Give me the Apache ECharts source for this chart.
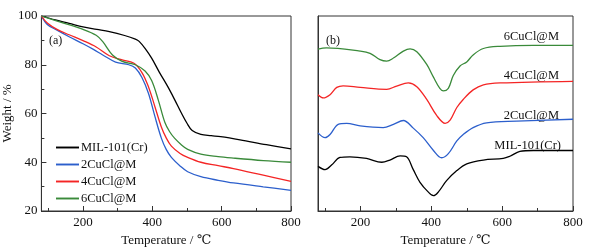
<!DOCTYPE html>
<html><head><meta charset="utf-8">
<script src="https://cdn.jsdelivr.net/npm/echarts@6/dist/echarts.min.js"></script>
<style>html,body{margin:0;padding:0;background:#fff}#c{width:595px;height:252px}</style>
</head><body><div id="c"></div>
<script>
// ---- TGA (panel a): [temperature, weight %]
var seriesNames = ['MIL-101(Cr)', '2CuCl@M', '4CuCl@M', '6CuCl@M'];
var tgaMIL = [[80,100],[120,98.4],[160,97],[200,95.5],[240,94.5],[276,93.6],[320,92],[351,90.5],[362,89.6],[380,86.5],[398,82.7],[420,77],[445,70.9],[465,65.5],[483,60.4],[500,56],[515,53],[540,51.4],[570,50.9],[597,50.5],[653,49.2],[729,47.2],[800,45.5]];
var tga2Cu = [[80,100],[97,96.5],[125,94.2],[160,91.5],[200,88.6],[230,86.3],[257,84],[294,81.1],[332,80],[351,78.7],[370,74.8],[389,68.2],[407,59],[426,49.9],[440,45.3],[455,42],[480,38.5],[502,36.1],[540,34.1],[590,32.6],[634,31.5],[720,29.9],[800,28.5]];
var tga4Cu = [[80,100],[97,97.1],[125,94.5],[160,92.3],[200,89.9],[238,87.3],[276,83.7],[313,82],[346,80.7],[370,76.8],[389,70.9],[407,63],[426,54.5],[440,50],[455,46.6],[480,43.6],[502,42],[540,40],[590,38.6],[634,37.4],[720,34.7],[800,32.2]];
var tga6Cu = [[80,100],[144,97.1],[200,94.5],[238,92.1],[257,89.5],[285,84],[313,81.4],[351,80],[379,77.4],[398,73.5],[417,65.6],[436,56.4],[450,52.5],[464,49.9],[485,47],[502,45.3],[540,43.3],[590,42.3],[634,41.7],[720,40.7],[800,40]];

// ---- DTG (panel b): [temperature, offset signal (arbitrary units)]
var dtgMIL = [[80,46.7],[100,43.3],[119,48.3],[142,56],[170,56.7],[217,55],[260,51],[283,53.3],[312,57.7],[330,56.7],[349,43.3],[368,30],[391,20],[406,16],[420,20],[443,31.7],[472,42.3],[500,49.3],[547,53.3],[603,55],[622,57.3],[650,62.3],[688,63.3],[800,63.3]];
var dtg2Cu = [[80,81.7],[100,76.7],[114,80],[137,90.7],[161,91.7],[199,89],[264,87.3],[293,90.7],[321,94.7],[349,86.7],[377,76.7],[406,63.3],[429,55.7],[448,60],[472,73.3],[490,80],[518,87.3],[556,92.3],[641,94],[800,96]];
var dtg4Cu = [[80,121.7],[95,118.3],[114,121.7],[133,129.3],[151,131],[199,129.3],[274,127.3],[302,130.7],[335,134],[359,130],[387,116.7],[415,100],[439,91.7],[453,95],[472,108.3],[490,116.7],[518,126.7],[547,132],[594,134],[800,135.7]];
var dtg6Cu = [[80,169.3],[104,170.7],[199,167.3],[227,165],[255,158.3],[274,156.7],[293,160],[321,167.3],[340,169.7],[359,166.7],[387,153.3],[406,140],[424,128.3],[434,125.7],[448,128.3],[462,141.7],[481,151.7],[500,156],[518,163.3],[547,170],[594,172.3],[688,173.3],[800,173.3]];

var xTickMajor = [200, 400, 600, 800];
var xTickMinor = [100, 300, 500, 700];
var colors = ['#000000', '#2c5fcc', '#f42525', '#3a8a3a'];

var FONT = '"Liberation Serif", "DejaVu Serif", serif';
var AX = '#333';

function xAxes(gi) {
  return [{
    type: 'value', gridIndex: gi, min: 80, max: 800, position: 'bottom',
    axisLine: {show: true, lineStyle: {color: AX, width: 1}},
    axisTick: {show: true, inside: true, length: 5, customValues: xTickMajor, lineStyle: {color: AX}},
    axisLabel: {customValues: xTickMajor, color: '#111', fontFamily: FONT, fontSize: 13, margin: 5},
    splitLine: {show: false},
    name: 'Temperature / \u2103', nameLocation: 'middle', nameGap: 23,
    nameTextStyle: {color: '#111', fontFamily: FONT, fontSize: 13}
  }, {
    type: 'value', gridIndex: gi, min: 80, max: 800, position: 'bottom',
    axisLine: {show: false},
    axisTick: {show: true, inside: true, length: 3, customValues: xTickMinor, lineStyle: {color: AX}},
    axisLabel: {show: false},
    splitLine: {show: false}
  }];
}

var xAxis = xAxes(0).concat(xAxes(1));
var yAxis = [{
  type: 'value', gridIndex: 0, min: 20, max: 100, interval: 20,
  axisLine: {show: true, lineStyle: {color: AX, width: 1}},
  axisTick: {show: true, inside: true, length: 5, lineStyle: {color: AX}},
  minorTick: {show: true, splitNumber: 2, length: 3, lineStyle: {color: AX}},
  axisLabel: {color: '#111', fontFamily: FONT, fontSize: 13, margin: 4},
  splitLine: {show: false},
  name: 'Weight / %', nameLocation: 'middle', nameGap: 27, nameRotate: 90,
  nameTextStyle: {color: '#111', fontFamily: FONT, fontSize: 13}
}, {
  type: 'value', gridIndex: 1, min: 0, max: 204,
  axisLine: {show: true, lineStyle: {color: AX, width: 1}},
  axisTick: {show: false}, axisLabel: {show: false}, splitLine: {show: false}
}];

function line(name, data, color, xi, yi) {
  return {
    type: 'line', name: name, data: data, xAxisIndex: xi, yAxisIndex: yi,
    smooth: 0.35, symbol: 'none', lineStyle: {color: color, width: 1.3},
    itemStyle: {color: color}, z: 3
  };
}

var series = [
  line(seriesNames[0], tgaMIL, colors[0], 0, 0),
  line(seriesNames[1], tga2Cu, colors[1], 0, 0),
  line(seriesNames[2], tga4Cu, colors[2], 0, 0),
  line(seriesNames[3], tga6Cu, colors[3], 0, 0),
  line('d' + seriesNames[0], dtgMIL, colors[0], 2, 1),
  line('d' + seriesNames[1], dtg2Cu, colors[1], 2, 1),
  line('d' + seriesNames[2], dtg4Cu, colors[2], 2, 1),
  line('d' + seriesNames[3], dtg6Cu, colors[3], 2, 1)
];

var chart = echarts.init(document.getElementById('c'), null, {renderer: 'canvas'});
chart.setOption({
  animation: false,
  backgroundColor: '#fff',
  grid: [
    {left: 37, top: 16, width: 254, height: 203, show: true, borderColor: AX, borderWidth: 1, backgroundColor: 'transparent'},
    {left: 318, top: 16, width: 255, height: 204, show: true, borderColor: AX, borderWidth: 1, backgroundColor: 'transparent'}
  ],
  xAxis: xAxis,
  yAxis: yAxis,
  legend: {
    data: seriesNames, orient: 'vertical', left: 51, top: 136,
    itemWidth: 23, itemHeight: 12, itemGap: 4, icon: 'path://M0,5 L24,5 L24,7 L0,7 Z',
    textStyle: {fontFamily: FONT, fontSize: 12.5, color: '#111', padding: [0, 0, 0, -3]}
  },
  graphic: [
    {type: 'text', left: 49, top: 35, style: {text: '(a)', fontFamily: FONT, fontSize: 12, fill: '#111'}},
    {type: 'text', left: 326, top: 35, style: {text: '(b)', fontFamily: FONT, fontSize: 12, fill: '#111'}},
    {type: 'text', right: 36, top: 30, style: {text: '6CuCl@M', fontFamily: FONT, fontSize: 12.5, fill: '#111'}},
    {type: 'text', right: 36, top: 69, style: {text: '4CuCl@M', fontFamily: FONT, fontSize: 12.5, fill: '#111'}},
    {type: 'text', right: 36, top: 109, style: {text: '2CuCl@M', fontFamily: FONT, fontSize: 12.5, fill: '#111'}},
    {type: 'text', right: 34, top: 139, style: {text: 'MIL-101(Cr)', fontFamily: FONT, fontSize: 12.5, fill: '#111'}}
  ],
  series: series
});
</script></body></html>
